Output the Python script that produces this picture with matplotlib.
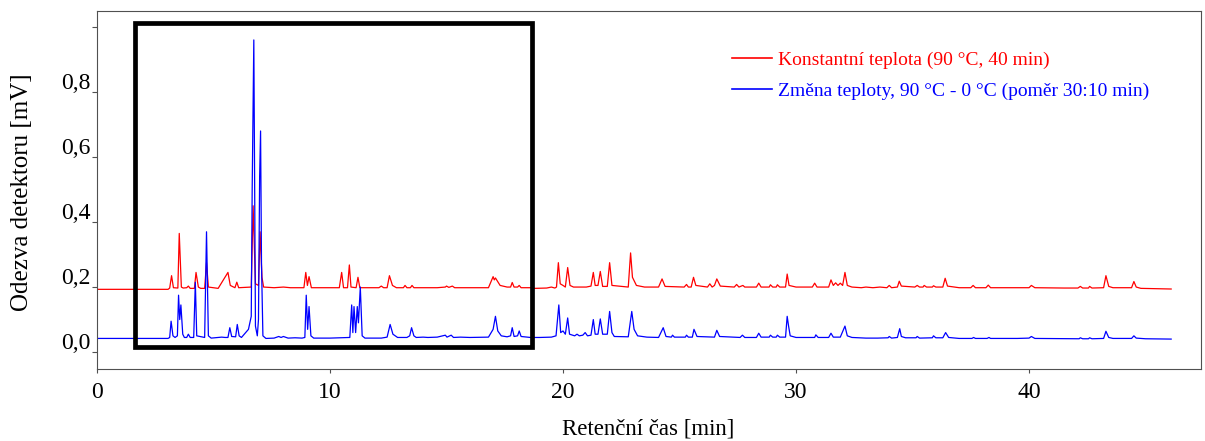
import matplotlib
matplotlib.use("Agg")
import matplotlib.pyplot as plt
import matplotlib.patches as patches
from matplotlib.transforms import ScaledTranslation

# ---- data (time [min], detector response [mV]) ----
red_label = "Konstantní teplota (90 °C, 40 min)"
blue_label = "Změna teploty, 90 °C - 0 °C (poměr 30:10 min)"

red_trace = [
    (0.0, 0.193), (3.05, 0.193),
    (3.12, 0.197), (3.2, 0.235), (3.28, 0.198),
    (3.47, 0.197), (3.53, 0.365), (3.62, 0.2), (3.7, 0.197),
    (3.85, 0.198), (3.92, 0.203), (4.0, 0.196),
    (4.18, 0.196), (4.25, 0.245), (4.35, 0.2), (4.45, 0.196),
    (4.62, 0.196), (4.7, 0.275), (4.78, 0.2), (5.2, 0.196),
    (5.62, 0.245), (5.72, 0.205), (5.92, 0.198), (6.0, 0.215), (6.08, 0.198),
    (6.62, 0.2), (6.7, 0.45), (6.8, 0.21), (6.93, 0.205), (7.0, 0.37), (7.08, 0.23), (7.15, 0.2),
    (7.6, 0.198), (8.0, 0.2), (8.3, 0.198),
    (8.88, 0.198), (8.96, 0.245), (9.03, 0.205), (9.1, 0.232), (9.2, 0.198),
    (10.4, 0.198), (10.5, 0.245), (10.58, 0.198), (10.75, 0.198), (10.83, 0.268), (10.9, 0.2),
    (11.12, 0.198), (11.2, 0.23), (11.28, 0.198),
    (12.1, 0.198), (12.2, 0.203), (12.3, 0.198), (12.45, 0.198), (12.55, 0.235), (12.68, 0.205), (12.85, 0.198),
    (13.15, 0.198), (13.22, 0.205), (13.3, 0.198), (13.45, 0.198), (13.52, 0.205), (13.6, 0.198),
    (14.6, 0.198), (14.95, 0.2), (15.0, 0.203), (15.1, 0.199), (15.25, 0.203), (15.35, 0.198),
    (16.8, 0.198), (17.0, 0.232), (17.05, 0.222), (17.1, 0.228), (17.3, 0.205), (17.6, 0.2),
    (17.75, 0.2), (17.82, 0.214), (17.9, 0.2), (18.05, 0.2), (18.12, 0.205), (18.2, 0.198),
    (18.6, 0.198), (18.8, 0.196), (19.3, 0.197), (19.5, 0.2), (19.65, 0.197),
    (19.72, 0.2), (19.8, 0.275), (19.88, 0.21), (20.0, 0.205), (20.1, 0.2), (20.2, 0.26), (20.3, 0.205), (20.45, 0.2),
    (20.9, 0.2), (21.0, 0.2), (21.2, 0.203), (21.3, 0.245), (21.38, 0.205), (21.5, 0.205), (21.6, 0.248),
    (21.7, 0.202), (21.9, 0.202), (22.0, 0.275), (22.1, 0.205), (22.8, 0.2), (22.9, 0.305), (22.98, 0.23),
    (23.05, 0.22), (23.15, 0.205), (23.5, 0.2),
    (24.1, 0.2), (24.25, 0.225), (24.38, 0.202), (25.2, 0.2), (25.3, 0.208), (25.38, 0.2), (25.5, 0.2),
    (25.6, 0.23), (25.7, 0.205), (26.2, 0.2), (26.3, 0.21), (26.4, 0.2), (26.5, 0.205), (26.6, 0.225), (26.75, 0.203),
    (27.35, 0.2), (27.45, 0.208), (27.55, 0.2), (27.65, 0.203), (27.72, 0.205), (27.8, 0.2), (28.3, 0.2),
    (28.4, 0.212), (28.5, 0.2), (28.85, 0.2), (28.9, 0.207), (29.0, 0.2), (29.15, 0.2), (29.2, 0.207), (29.3, 0.2),
    (29.55, 0.2), (29.62, 0.24), (29.7, 0.205), (30.0, 0.2), (30.7, 0.2), (30.8, 0.212), (30.9, 0.2),
    (31.4, 0.2), (31.5, 0.222), (31.6, 0.205), (31.7, 0.213), (31.8, 0.205), (31.9, 0.212), (32.0, 0.205),
    (32.1, 0.245), (32.2, 0.205), (32.4, 0.2),
    (32.8, 0.198), (33.0, 0.2), (33.3, 0.198), (33.6, 0.2), (33.9, 0.198), (34.0, 0.205), (34.1, 0.198),
    (34.35, 0.2), (34.43, 0.218), (34.52, 0.203), (35.1, 0.2), (35.2, 0.205), (35.3, 0.2), (35.45, 0.2),
    (35.5, 0.205), (35.6, 0.2), (35.85, 0.2), (35.9, 0.204), (36.0, 0.2),
    (36.3, 0.2), (36.4, 0.227), (36.5, 0.203), (37.0, 0.198), (37.5, 0.198), (37.6, 0.205), (37.7, 0.198),
    (38.15, 0.198), (38.25, 0.206), (38.35, 0.198), (39.5, 0.198), (40.0, 0.198), (40.1, 0.205), (40.25, 0.198),
    (41.5, 0.197), (42.1, 0.197), (42.2, 0.202), (42.3, 0.197), (42.55, 0.197), (42.6, 0.202), (42.7, 0.197),
    (43.2, 0.198), (43.3, 0.235), (43.42, 0.202), (43.6, 0.198), (44.4, 0.198), (44.5, 0.217), (44.6, 0.2),
    (44.8, 0.196), (46.1, 0.194),
]

blue_trace = [
    (0.0, 0.042), (3.05, 0.042),
    (3.12, 0.045), (3.18, 0.095), (3.26, 0.05), (3.35, 0.045),
    (3.45, 0.05), (3.5, 0.175), (3.55, 0.1), (3.6, 0.145), (3.68, 0.055), (3.75, 0.045),
    (3.85, 0.045), (3.92, 0.055), (4.0, 0.045),
    (4.15, 0.045), (4.22, 0.215), (4.28, 0.05),
    (4.62, 0.045), (4.7, 0.37), (4.78, 0.05), (4.9, 0.043),
    (5.2, 0.045), (5.35, 0.046), (5.5, 0.045), (5.62, 0.045), (5.7, 0.075), (5.78, 0.048),
    (5.95, 0.047), (6.02, 0.085), (6.1, 0.05), (6.2, 0.045), (6.5, 0.07), (6.62, 0.11),
    (6.66, 0.5), (6.73, 0.96), (6.8, 0.08), (6.88, 0.05), (6.93, 0.1), (6.98, 0.54),
    (7.02, 0.68), (7.06, 0.27), (7.12, 0.05), (7.25, 0.042),
    (7.6, 0.043), (7.8, 0.048), (7.9, 0.045), (8.0, 0.048), (8.2, 0.043), (8.5, 0.044), (8.8, 0.043),
    (8.92, 0.045), (8.98, 0.175), (9.04, 0.07), (9.1, 0.14), (9.18, 0.05), (9.3, 0.043),
    (10.0, 0.043), (10.5, 0.044), (10.85, 0.045), (10.93, 0.145), (10.98, 0.06), (11.03, 0.14),
    (11.1, 0.06), (11.17, 0.14), (11.22, 0.09), (11.3, 0.2), (11.38, 0.05), (11.5, 0.043),
    (12.2, 0.043), (12.45, 0.046), (12.58, 0.085), (12.7, 0.055), (12.9, 0.045), (13.3, 0.045),
    (13.42, 0.05), (13.5, 0.075), (13.6, 0.05), (13.7, 0.045), (14.0, 0.046), (14.2, 0.045),
    (14.6, 0.046), (14.95, 0.052), (15.02, 0.046), (15.2, 0.052), (15.3, 0.045), (15.6, 0.046),
    (16.0, 0.045), (16.8, 0.046),
    (17.0, 0.07), (17.1, 0.11), (17.2, 0.065), (17.35, 0.05), (17.6, 0.047), (17.75, 0.05),
    (17.82, 0.075), (17.9, 0.048), (18.05, 0.05), (18.12, 0.065), (18.2, 0.048), (18.6, 0.045),
    (19.0, 0.045), (19.5, 0.046), (19.7, 0.05), (19.82, 0.145), (19.9, 0.06), (20.0, 0.065),
    (20.1, 0.055), (20.2, 0.105), (20.28, 0.055), (20.5, 0.05), (20.6, 0.055), (20.7, 0.05),
    (20.85, 0.052), (20.95, 0.06), (21.05, 0.05),
    (21.2, 0.052), (21.3, 0.1), (21.38, 0.055), (21.5, 0.055), (21.6, 0.102), (21.7, 0.055),
    (21.9, 0.055), (22.0, 0.125), (22.1, 0.06), (22.2, 0.048), (22.8, 0.047), (22.95, 0.125),
    (23.05, 0.07), (23.2, 0.05), (23.6, 0.046),
    (24.1, 0.045), (24.3, 0.075), (24.42, 0.048), (24.65, 0.046), (24.7, 0.052), (24.78, 0.046),
    (25.25, 0.046), (25.3, 0.052), (25.38, 0.046), (25.55, 0.046), (25.62, 0.07), (25.75, 0.048),
    (26.5, 0.046), (26.6, 0.067), (26.72, 0.048),
    (27.6, 0.045), (27.7, 0.052), (27.8, 0.045), (28.3, 0.045), (28.4, 0.058), (28.5, 0.046),
    (28.85, 0.046), (28.9, 0.052), (29.0, 0.046), (29.15, 0.046), (29.2, 0.052), (29.3, 0.046),
    (29.55, 0.046), (29.62, 0.11), (29.68, 0.08), (29.75, 0.05), (30.0, 0.045),
    (30.8, 0.045), (30.85, 0.053), (30.95, 0.045), (31.4, 0.045), (31.5, 0.058), (31.6, 0.046),
    (31.9, 0.046), (32.1, 0.08), (32.2, 0.05), (32.4, 0.045), (33.0, 0.043), (33.5, 0.043),
    (33.95, 0.044), (34.0, 0.048), (34.1, 0.043), (34.35, 0.045), (34.45, 0.072), (34.52, 0.048),
    (34.7, 0.044), (35.15, 0.044), (35.2, 0.048), (35.3, 0.043), (35.85, 0.044), (35.9, 0.05),
    (36.0, 0.044), (36.3, 0.044), (36.42, 0.06), (36.55, 0.045),
    (37.0, 0.042), (37.55, 0.042), (37.62, 0.045), (37.7, 0.042), (38.2, 0.042), (38.28, 0.045),
    (38.35, 0.042), (39.5, 0.042), (40.0, 0.043), (40.1, 0.048), (40.25, 0.042), (42.15, 0.041),
    (42.2, 0.044), (42.3, 0.041), (42.55, 0.041), (42.6, 0.044), (42.7, 0.041), (43.2, 0.042),
    (43.3, 0.064), (43.42, 0.045), (43.6, 0.042), (44.4, 0.042), (44.5, 0.05), (44.6, 0.043),
    (45.0, 0.041), (46.1, 0.04),
]

red_time = [p[0] for p in red_trace]
red_signal = [p[1] for p in red_trace]
blue_time = [p[0] for p in blue_trace]
blue_signal = [p[1] for p in blue_trace]

x_ticks = [0, 10, 20, 30, 40]
y_ticks = [0.0, 0.2, 0.4, 0.6, 0.8, 1.0]
y_tick_labels = ["0,0", "0,2", "0,4", "0,6", "0,8", ""]

# highlighted region (time range and response range)
box_t = (1.63, 18.67)
box_v = (0.015, 1.012)

xlabel = "Retenční čas [min]"
ylabel = "Odezva detektoru [mV]"

# ---- figure ----
plt.rcParams["font.family"] = ["Liberation Serif", "DejaVu Serif"]

W, H = 1205, 441
fig = plt.figure(figsize=(W / 100, H / 100), dpi=100)
left, right, top, bottom = 97, 1201, 11, 369
ax = fig.add_axes([left / W, (H - bottom) / H, (right - left) / W, (bottom - top) / H])

ax.plot(red_time, red_signal, color="#ff0000", lw=0.9, label=red_label)
ax.plot(blue_time, blue_signal, color="#0000ff", lw=0.9, label=blue_label)

ax.add_patch(patches.Rectangle((box_t[0], box_v[0]), box_t[1] - box_t[0], box_v[1] - box_v[0],
                               fill=False, ec="black", lw=3.4, zorder=5))

ax.set_xlim(0, 47.38)
ax.set_ylim(-0.052, 1.049)
ax.set_xticks(x_ticks)
ax.set_yticks(y_ticks)
ax.set_yticklabels(y_tick_labels)

for s in ax.spines.values():
    s.set_color("#505050")
    s.set_linewidth(0.8)

ax.tick_params(axis="both", direction="out", colors="#505050", labelcolor="black",
               labelsize=17, width=0.8)
ax.tick_params(axis="y", length=3.6, pad=0.8)
ax.tick_params(axis="x", length=3.0, pad=6.5)

offset = ScaledTranslation(0, 11 / 100, fig.dpi_scale_trans)
for lab in ax.get_yticklabels():
    lab.set_transform(lab.get_transform() + offset)

ax.set_xlabel(xlabel, fontsize=16.5, va="center")
ax.xaxis.set_label_coords((648 - left) / (right - left), (bottom - 429) / (bottom - top))
ax.set_ylabel(ylabel, fontsize=18, va="center")
ax.yaxis.set_label_coords((22 - left) / (right - left), (bottom - 192) / (bottom - top))

leg = ax.legend(loc="upper left", bbox_to_anchor=((732 - left) / (right - left), (bottom - 51) / (bottom - top)),
                frameon=False, prop={"size": 14}, labelcolor="linecolor",
                handlelength=2.05, handletextpad=0.3, labelspacing=0.72,
                borderaxespad=0, borderpad=0)
for line in leg.get_lines():
    line.set_linewidth(1.2)

fig.savefig("out.png", dpi=100)
